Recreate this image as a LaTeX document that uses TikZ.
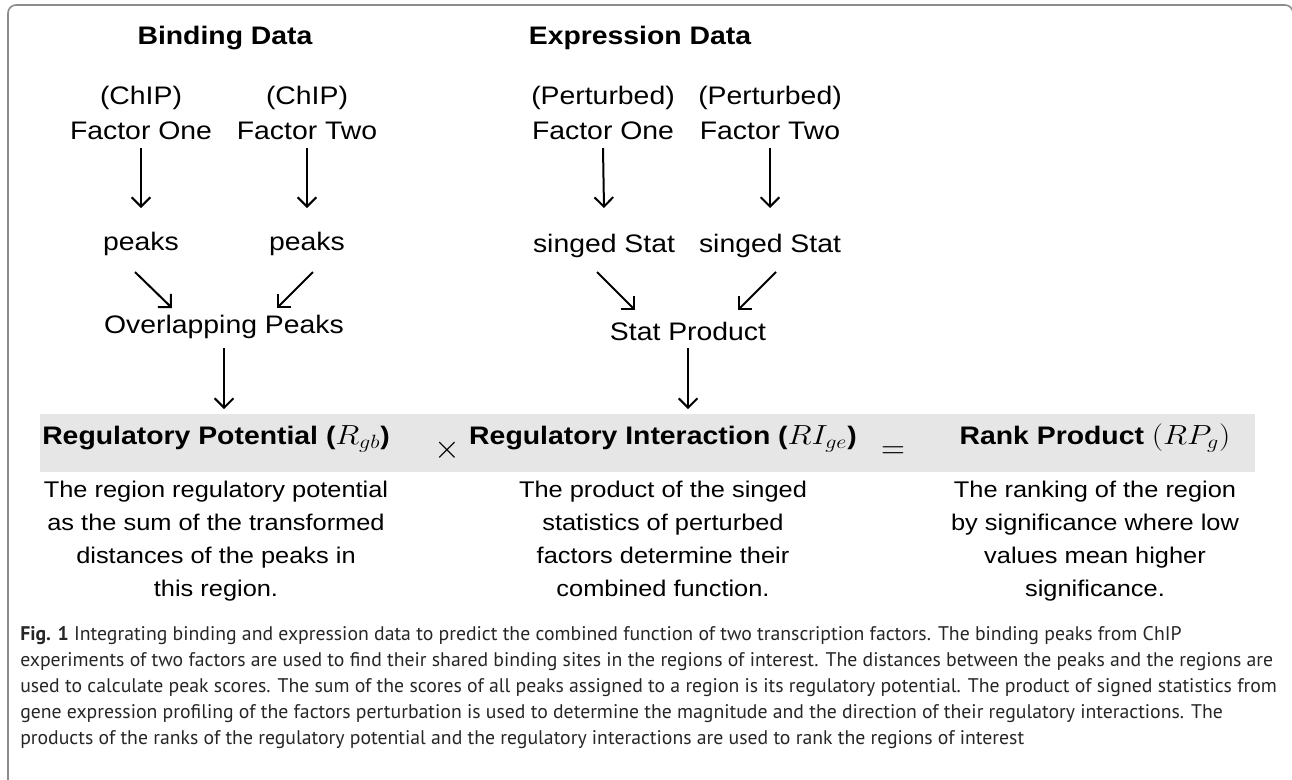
\documentclass[tikz,border=0pt]{standalone}
\usepackage{fontspec}
\usepackage{graphicx}
\setmainfont{Liberation Sans}[FakeStretch=1.12]
\newfontfamily\capfont{PT Sans}
\newcommand{\widemath}[1]{\scalebox{1.15}[1]{\fontsize{22}{24}\selectfont$#1$}}
\usetikzlibrary{arrows.meta,calc}

\begin{document}
\begin{tikzpicture}[x=0.75pt,y=-0.75pt,
        lbl/.style={font=\fontsize{19}{26}\selectfont, inner sep=0pt, align=center, anchor=base},
        head/.style={lbl, font=\fontsize{19}{23}\selectfont\bfseries},
        bandtxt/.style={font=\fontsize{19}{24}\selectfont\bfseries, inner sep=0pt, anchor=base},
        sign/.style={font=\fontsize{24}{24}\selectfont, inner sep=0pt},
        para/.style={font=\fontsize{17}{24.75}\selectfont, inner sep=0pt, align=center, anchor=north},
        captext/.style={font=\capfont\fontsize{14.8}{19.5}\selectfont, text=black!85, align=left, anchor=north west, inner sep=0pt},
        arr/.style={line width=1.5pt, -{Straight Barb[length=7pt,width=14pt,line width=1.5pt]}}]
        \definecolor{framegray}{HTML}{8C8C8C}
        \definecolor{bandgray}{HTML}{E6E6E6}

        \useasboundingbox (0,0) rectangle (1292,779);
        \draw[framegray, line width=1.2pt, rounded corners=6pt] (8,800) -- (8,5) -- (1293,5) -- (1293,800);

        % headings
        \node[head] (bind) at (225,44) {Binding Data};
        \node[head] (expr) at (640,44) {Expression Data};

        % binding side
        \node[lbl] (cf1) at (141,139) {(ChIP)\\Factor One};
        \node[lbl] (cf2) at (307,139) {(ChIP)\\Factor Two};
        \node[lbl] (pk1) at (141,250) {peaks};
        \node[lbl] (pk2) at (307,250) {peaks};
        \node[lbl] (ovl) at (224,333) {Overlapping Peaks};

        % expression side
        \node[lbl] (pf1) at (603,139) {(Perturbed)\\Factor One};
        \node[lbl] (pf2) at (770,139) {(Perturbed)\\Factor Two};
        \node[lbl] (ss1) at (604,252) {singed Stat};
        \node[lbl] (ss2) at (770,252) {singed Stat};
        \node[lbl] (sp) at (688,340) {Stat Product};

        % score band
        \node[fill=bandgray, inner sep=0pt, minimum width=911.25pt, minimum height=43pt] (band) at (647.5,443) {};
        \node[bandtxt] (rp) at (216,444) {Regulatory Potential (\widemath{R_{gb}})};
        \node[sign] (times) at (447,450) {$\times$};
        \node[bandtxt] (ri) at (663,444) {Regulatory Interaction (\widemath{RI_{ge}})};
        \node[sign] (equals) at (893,453) {$=$};
        \node[bandtxt] (rk) at (1095,444) {Rank Product \widemath{(RP_g)}};

        \node[para] (rpnote) at (216,481) {The region regulatory potential\\as the sum of the transformed\\distances of the peaks in\\this region.};
        \node[para] (rinote) at (663,481) {The product of the singed\\statistics of perturbed\\factors determine their\\combined function.};
        \node[para] (rknote) at (1095,481) {The ranking of the region\\by significance where low\\values mean higher\\significance.};

        % arrows
        \draw[arr] ($(cf1.base)+(0,9)$) -- ($(pk1.base)+(0,-42)$);
        \draw[arr] ($(cf2.base)+(0,9)$) -- ($(pk2.base)+(0,-42)$);
        \draw[arr] ($(pk1.base)+(-6,22)$) -- ($(ovl.base)+(-52,-25)$);
        \draw[arr] ($(pk2.base)+(6,22)$) -- ($(ovl.base)+(53,-25)$);
        \draw[arr] ($(ovl.base)+(0,15)$) -- ($(ovl.base |- band.north)+(0,-5)$);
        \draw[arr] ($(pf1.base)+(0,9)$) -- ($(ss1.base)+(0,-44)$);
        \draw[arr] ($(pf2.base)+(0,9)$) -- ($(ss2.base)+(0,-44)$);
        \draw[arr] ($(ss1.base)+(-7,20)$) -- ($(sp.base)+(-53,-30)$);
        \draw[arr] ($(ss2.base)+(6,20)$) -- ($(sp.base)+(50,-30)$);
        \draw[arr] ($(sp.base)+(0,8)$) -- ($(sp.base |- band.north)+(0,-5)$);

        % caption
        \node[captext] (caption) at (20,626) {\textbf{Fig. 1} Integrating binding and expression data to predict the combined function of two transcription factors. The binding peaks from ChIP\\experiments of two factors are used to find their shared binding sites in the regions of interest. The distances between the peaks and the regions are\\used to calculate peak scores. The sum of the scores of all peaks assigned to a region is its regulatory potential. The product of signed statistics from\\gene expression profiling of the factors perturbation is used to determine the magnitude and the direction of their regulatory interactions. The\\products of the ranks of the regulatory potential and the regulatory interactions are used to rank the regions of interest};
    \end{tikzpicture}
\end{document}
